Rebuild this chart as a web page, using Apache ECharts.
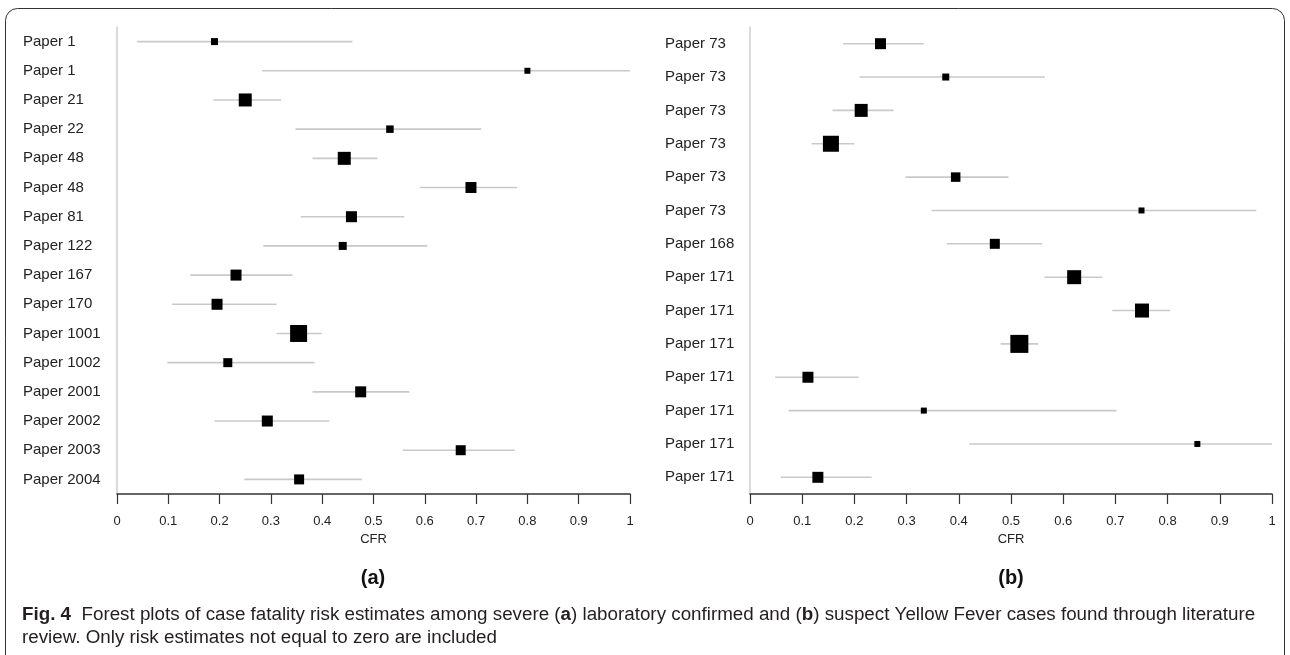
<!DOCTYPE html>
<html>
<head>
<meta charset="utf-8">
<script src="https://cdn.jsdelivr.net/npm/echarts@6/dist/echarts.min.js"></script>
<style>
html, body { margin: 0; padding: 0; background: #fff; }
#chart { width: 1290px; height: 655px; }
</style>
</head>
<body>
<div id="chart"></div>
<script>
// (a) laboratory confirmed
var labelsA = ['Paper 1', 'Paper 1', 'Paper 21', 'Paper 22', 'Paper 48', 'Paper 48', 'Paper 81', 'Paper 122',
	'Paper 167', 'Paper 170', 'Paper 1001', 'Paper 1002', 'Paper 2001', 'Paper 2002', 'Paper 2003', 'Paper 2004'];
var cfrA = [0.19, 0.80, 0.25, 0.532, 0.443, 0.69, 0.457, 0.44, 0.232, 0.195, 0.354, 0.216, 0.475, 0.293, 0.67, 0.355];
var lowA = [0.039, 0.283, 0.188, 0.348, 0.381, 0.59, 0.358, 0.285, 0.143, 0.107, 0.311, 0.098, 0.381, 0.19, 0.557, 0.248];
var highA = [0.459, 1.0, 0.32, 0.71, 0.508, 0.78, 0.56, 0.605, 0.342, 0.311, 0.399, 0.385, 0.57, 0.414, 0.775, 0.477];
var weightA = [7, 6, 13, 7.5, 13, 11, 11, 8, 11, 11, 17, 9, 11, 11, 10, 10];

// (b) suspect
var labelsB = ['Paper 73', 'Paper 73', 'Paper 73', 'Paper 73', 'Paper 73', 'Paper 73', 'Paper 168',
	'Paper 171', 'Paper 171', 'Paper 171', 'Paper 171', 'Paper 171', 'Paper 171', 'Paper 171'];
var cfrB = [0.25, 0.375, 0.213, 0.155, 0.394, 0.75, 0.469, 0.621, 0.751, 0.516, 0.111, 0.333, 0.857, 0.13];
var lowB = [0.178, 0.21, 0.158, 0.118, 0.298, 0.348, 0.377, 0.564, 0.694, 0.48, 0.048, 0.074, 0.42, 0.059];
var highB = [0.333, 0.565, 0.275, 0.2, 0.495, 0.97, 0.56, 0.675, 0.805, 0.552, 0.208, 0.702, 1.0, 0.233];
var weightB = [11, 7, 13, 16, 9.5, 6, 10, 14, 14, 18, 11, 6, 6, 11];

var xTicks = [0, 0.1, 0.2, 0.3, 0.4, 0.5, 0.6, 0.7, 0.8, 0.9, 1];

var captionLine1 = 'Forest plots of case fatality risk estimates among severe (';
var captionLine2 = 'review. Only risk estimates not equal to zero are included';

var font = 'Liberation Sans, Arial, Helvetica, sans-serif';

function ciData(low, high){
	var out = [];
	for(var i = 0; i < low.length; i++){
		out.push([low[i], high[i], i]);
	}
	return out;
}

function pointData(cfr, weight){
	var out = [];
	for(var i = 0; i < cfr.length; i++){
		out.push({ value: [cfr[i], i], symbolSize: weight[i] });
	}
	return out;
}

function renderCI(params, api){
	var a = api.coord([api.value(0), api.value(2)]);
	var b = api.coord([api.value(1), api.value(2)]);
	return {
		type: 'line',
		shape: { x1: a[0], y1: a[1], x2: b[0], y2: b[1] },
		style: { stroke: '#c9c9c9', lineWidth: 1.6 }
	};
}

function xAxisOpt(idx){
	return {
		gridIndex: idx,
		type: 'value',
		min: 0,
		max: 1,
		interval: 0.1,
		name: 'CFR',
		nameLocation: 'middle',
		nameGap: 39,
		nameTextStyle: { fontFamily: font, fontSize: 13, color: '#222' },
		axisLine: { show: true, lineStyle: { color: '#333', width: 1.5 } },
		axisTick: { show: true, length: 10, lineStyle: { color: '#333', width: 1.2 } },
		axisLabel: {
			margin: 21,
			fontFamily: font, fontSize: 13, color: '#222',
			formatter: function(v){ return String(xTicks[Math.round(v * 10)]); }
		},
		splitLine: { show: false }
	};
}

function yAxisOpt(idx, labels, margin){
	return {
		gridIndex: idx,
		type: 'category',
		inverse: true,
		data: labels,
		axisLine: { show: true, lineStyle: { color: '#d2d2d2', width: 1.6 } },
		axisTick: { show: false },
		axisLabel: { align: 'left', margin: margin, fontFamily: font, fontSize: 15, color: '#222' },
		splitLine: { show: false }
	};
}

var myChart = echarts.init(document.getElementById('chart'));
var option = {
	animation: false,
	backgroundColor: '#fff',
	grid: [
		{ left: 117, top: 27, width: 513, height: 467 },
		{ left: 750, top: 27, width: 522, height: 467 }
	],
	xAxis: [xAxisOpt(0), xAxisOpt(1)],
	yAxis: [yAxisOpt(0, labelsA, 94), yAxisOpt(1, labelsB, 85)],
	series: [
		{
			type: 'custom', xAxisIndex: 0, yAxisIndex: 0, z: 2,
			renderItem: renderCI, encode: { x: [0, 1], y: 2 },
			data: ciData(lowA, highA)
		},
		{
			type: 'scatter', xAxisIndex: 0, yAxisIndex: 0, z: 3,
			symbol: 'rect', itemStyle: { color: '#000', opacity: 1 },
			data: pointData(cfrA, weightA)
		},
		{
			type: 'custom', xAxisIndex: 1, yAxisIndex: 1, z: 2,
			renderItem: renderCI, encode: { x: [0, 1], y: 2 },
			data: ciData(lowB, highB)
		},
		{
			type: 'scatter', xAxisIndex: 1, yAxisIndex: 1, z: 3,
			symbol: 'rect', itemStyle: { color: '#000', opacity: 1 },
			data: pointData(cfrB, weightB)
		}
	],
	graphic: [
		{
			type: 'rect', silent: true,
			shape: { x: 5.5, y: 8.5, width: 1279, height: 720, r: 12 },
			style: { fill: 'none', stroke: '#333', lineWidth: 1 }
		},
		{
			type: 'text', silent: true, x: 373, y: 578,
			style: { text: '(a)', align: 'center', verticalAlign: 'middle',
				font: 'bold 20px ' + font, fill: '#111' }
		},
		{
			type: 'text', silent: true, x: 1011, y: 578,
			style: { text: '(b)', align: 'center', verticalAlign: 'middle',
				font: 'bold 20px ' + font, fill: '#111' }
		},
		{
			type: 'text', silent: true, x: 22, y: 615,
			style: {
				text: '{b|Fig. 4}  ' + captionLine1 + '{b|a}) laboratory confirmed and ({b|b}) suspect Yellow Fever cases found through literature',
				verticalAlign: 'middle',
				font: '18.8px ' + font, fill: '#231f20',
				rich: { b: { fontWeight: 'bold', fontSize: 18.8, fontFamily: font, fill: '#231f20' } }
			}
		},
		{
			type: 'text', silent: true, x: 22, y: 638,
			style: { text: captionLine2, verticalAlign: 'middle', font: '18.8px ' + font, fill: '#231f20' }
		}
	]
};
myChart.setOption(option);
</script>
</body>
</html>
